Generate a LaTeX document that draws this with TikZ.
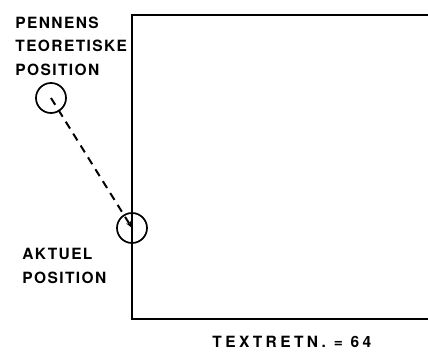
\documentclass[tikz,border=0pt]{standalone}
\usepackage{fontspec}
\setmainfont{TeX Gyre Heros}
\newfontfamily\handfont{TeX Gyre Heros}[LetterSpace=9]
\newfontfamily\handwidefont{TeX Gyre Heros}[LetterSpace=22]
\usetikzlibrary{positioning,arrows.meta}

\begin{document}
\begin{tikzpicture}[x=1pt,y=-1pt,>={Stealth[length=7pt,width=5pt]},thick]
            \tikzset{
                pen/.style={
                    draw,
                    circle,
                    line width=1.7pt,
                    minimum size=30pt,
                    inner sep=0pt
                },
                hand/.style={
                    font=\handfont\bfseries\fontsize{15.5}{23.5}\selectfont,
                    inner sep=0pt,
                    align=left,
                    anchor=base west
                }
            }
            \useasboundingbox (0,0) rectangle (428,356);

            % Paper
            \draw[line width=2pt] (428,15) -- (132,15) -- (132,319) -- (428,319);

            % Pen positions
            \node[pen] (teo) at (51,98) {};
            \node[pen] (akt) at (132,228) {};
            \draw[->,line width=2pt,dash pattern=on 8pt off 6pt] (teo.center) -- (akt.center);

            % Labels (base = last line)
            \node[hand] (teo_label) at (15,75) {PENNENS\\TEORETISKE\\POSITION};
            \node[hand] (akt_label) at (22,283) {AKTUEL\\POSITION};
            \node[hand,font=\handwidefont\bfseries\fontsize{15.5}{18}\selectfont] (dir_label) at (212,347) {TEXTRETN. = 64};
        \end{tikzpicture}
\end{document}
